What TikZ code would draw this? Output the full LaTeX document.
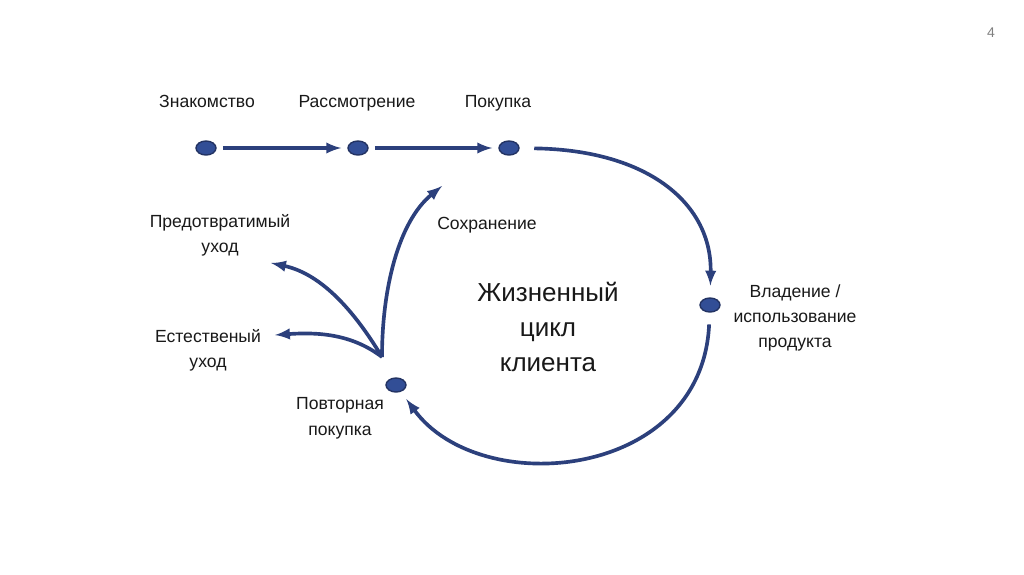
\documentclass[tikz,border=0pt]{standalone}
\usepackage{fontspec}
\setmainfont{Liberation Sans}
\usepackage{tikz}
\usetikzlibrary{shapes.geometric, arrows, positioning, calc}

\definecolor{cycleblue}{RGB}{44,64,124}
\definecolor{dotfill}{RGB}{50,78,150}

\begin{document}
\begin{tikzpicture}[
    x=0.025cm, y=-0.025cm,
    mydot/.style={ellipse, draw=cycleblue!80!black, fill=dotfill, line width=1pt, minimum width=0.5cm, minimum height=0.35cm, inner sep=0pt, outer sep=0.17cm},
    stage/.style={align=center, font=\fontsize{12.5}{17.8}\selectfont, text=black!90, text depth=0.22em},
    arrow/.style={-latex, line width=2.6pt, draw=cycleblue}
]
    \useasboundingbox[fill=white] (0,0) rectangle (1024,574);

    % stages
    \node[mydot] (d1) at (206,148) {};
    \node[mydot] (d2) at (358,148) {};
    \node[mydot] (d3) at (509,148) {};
    \node[mydot] (d4) at (710,305) {};
    \node[mydot] (d5) at (396,385) {};

    \node[stage] (l1) at (207,103) {Знакомство};
    \node[stage] (l2) at (357,103) {Рассмотрение};
    \node[stage] (l3) at (498,103) {Покупка};
    \node[stage] (l4) at (795,318) {Владение /\\использование\\продукта};
    \node[stage] (l5) at (340,418) {Повторная\\покупка};
    \node[stage] (l6) at (487,225) {Сохранение};
    \node[stage] (l7) at (220,235) {Предотвратимый\\уход};
    \node[stage] (l8) at (208,350) {Естественый\\уход};

    \node[align=center, font=\fontsize{18.5}{25}\selectfont, text=black!90] (title) at (548,327) {Жизненный\\цикл\\клиента};
    \node[font=\fontsize{10}{12}\selectfont, text=black!50] (page) at (991,33) {4};

    % branch ends
    \coordinate (fan) at (382,357);
    \coordinate (e1) at (442,186);
    \coordinate (e2) at (271,263);
    \coordinate (e3) at (275,335);

    \draw[arrow] (d1) -- (d2);
    \draw[arrow] (d2) -- (d3);
    \draw[arrow, shorten <=6pt, shorten >=4pt] (d3) .. controls (650,150) and (712,205) .. (d4);
    \draw[arrow, shorten <=4pt, shorten >=2pt] (d4) .. controls (702,480) and (480,500) .. (d5);
    \draw[arrow] (fan) .. controls (382,290) and (398,222) .. (e1);
    \draw[arrow] (fan) .. controls (355,312) and (322,274) .. (e2);
    \draw[arrow] (fan) .. controls (352,334) and (318,332) .. (e3);
\end{tikzpicture}
\end{document}
